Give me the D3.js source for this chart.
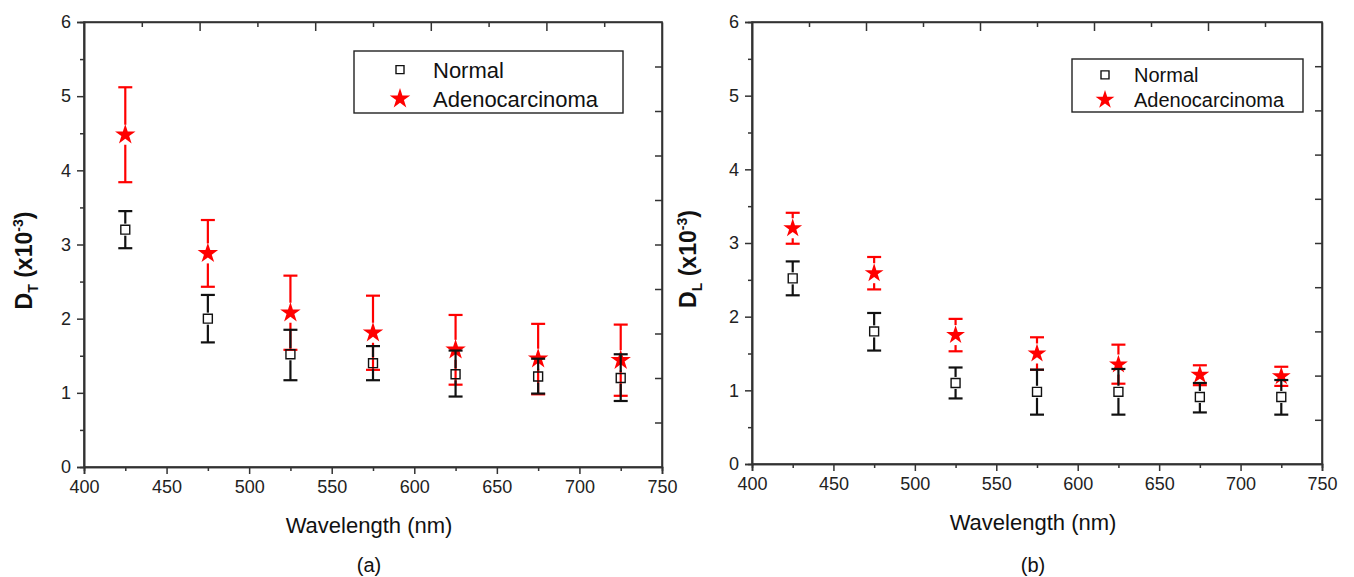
<!DOCTYPE html>
<html>
<head>
<meta charset="utf-8">
<script src="https://cdn.jsdelivr.net/npm/d3@7"></script>
<style>
  body { margin: 0; background: #fff; }
  svg { font-family: "Liberation Sans", Arial, sans-serif; }
</style>
</head>
<body>
<div id="chart"></div>
<script>
const width = 1354,
  height = 577;

// shared x categories (nm)
const wavelengths = [425, 475, 525, 575, 625, 675, 725];
const xTicks = [400, 450, 500, 550, 600, 650, 700, 750];
const yTicks = [0, 1, 2, 3, 4, 5, 6];
const seriesNames = ["Normal", "Adenocarcinoma"];

// panel (a): D_T
const dtNormal = [3.2, 2.0, 1.52, 1.40, 1.25, 1.22, 1.20];
const dtNormalLo = [2.95, 1.68, 1.17, 1.17, 0.95, 0.99, 0.89];
const dtNormalHi = [3.45, 2.32, 1.85, 1.63, 1.57, 1.46, 1.52];
const dtAdeno = [4.48, 2.88, 2.08, 1.81, 1.58, 1.46, 1.44];
const dtAdenoLo = [3.84, 2.43, 1.58, 1.31, 1.11, 0.98, 0.96];
const dtAdenoHi = [5.12, 3.33, 2.58, 2.31, 2.05, 1.93, 1.92];

// panel (b): D_L
const dlNormal = [2.52, 1.80, 1.10, 0.98, 0.98, 0.91, 0.91];
const dlNormalLo = [2.29, 1.54, 0.89, 0.67, 0.67, 0.70, 0.67];
const dlNormalHi = [2.75, 2.05, 1.31, 1.28, 1.29, 1.10, 1.14];
const dlAdeno = [3.20, 2.59, 1.75, 1.50, 1.35, 1.21, 1.19];
const dlAdenoLo = [2.99, 2.37, 1.53, 1.28, 1.09, 1.07, 1.06];
const dlAdenoHi = [3.41, 2.81, 1.97, 1.72, 1.62, 1.34, 1.32];

const svg = d3.select("#chart")
  .append("svg")
  .attr("width", width)
  .attr("height", height);

const axisColor = "#333";

function drawPanel(p) {
  const x = d3.scaleLinear().domain([400, 750]).range([p.left, p.right]);
  const y = d3.scaleLinear().domain([0, 6]).range([p.bottom, p.top]);
  const g = svg.append("g");

  // bottom axis: outward ticks, major every 50, minor every 25
  g.append("g")
    .attr("transform", `translate(0,${p.bottom})`)
    .call(d3.axisBottom(x).tickValues(xTicks).tickSize(7).tickPadding(6).tickFormat(d3.format("d")));
  g.append("g")
    .attr("transform", `translate(0,${p.bottom})`)
    .call(d3.axisBottom(x).tickValues(d3.range(425, 750, 50)).tickSize(4).tickFormat(""));

  // left axis: outward ticks, major 1, minor 0.5
  g.append("g")
    .attr("transform", `translate(${p.left},0)`)
    .call(d3.axisLeft(y).tickValues(yTicks).tickSize(7).tickPadding(6).tickFormat(d3.format("d")));
  g.append("g")
    .attr("transform", `translate(${p.left},0)`)
    .call(d3.axisLeft(y).tickValues(d3.range(0.5, 6, 1)).tickSize(4).tickFormat(""));

  // top axis: inward ticks, 10 divisions
  const topVals = d3.range(1, 10).map(i => 400 + i * 35);
  g.append("g")
    .attr("transform", `translate(0,${p.top})`)
    .call(d3.axisTop(x).tickValues(topVals).tickSizeInner(0).tickSizeOuter(0).tickFormat(""))
    .selectAll(".tick line")
    .attr("y2", (d, i) => i % 2 ? 9 : 5);

  // right axis: inward ticks every 0.6
  const rightVals = d3.range(1, 10).map(i => i * 0.6);
  g.append("g")
    .attr("transform", `translate(${p.right},0)`)
    .call(d3.axisRight(y).tickValues(rightVals).tickSizeInner(0).tickSizeOuter(0).tickFormat(""))
    .selectAll(".tick line")
    .attr("x2", -7);

  g.selectAll(".domain").attr("stroke", axisColor).attr("stroke-width", 1.6);
  g.selectAll(".tick line").attr("stroke", axisColor).attr("stroke-width", 1.5);
  g.selectAll(".tick text")
    .attr("fill", "#222")
    .attr("font-size", 18)
    .attr("font-family", "Liberation Sans, Arial, sans-serif");

  // close the frame
  g.append("rect")
    .attr("x", p.left).attr("y", p.top)
    .attr("width", p.right - p.left).attr("height", p.bottom - p.top)
    .attr("fill", "none").attr("stroke", axisColor).attr("stroke-width", 1.6);

  // axis labels
  g.append("text")
    .attr("x", (p.left + p.right) / 2 - 4)
    .attr("y", p.bottom + 66)
    .attr("text-anchor", "middle")
    .attr("font-size", 22)
    .attr("fill", "#111")
    .text("Wavelength (nm)");

  g.append("text")
    .attr("x", (p.left + p.right) / 2 - 4)
    .attr("y", 572)
    .attr("text-anchor", "middle")
    .attr("font-size", 20)
    .attr("fill", "#111")
    .text(p.tag);

  const yl = g.append("text")
    .attr("transform", `translate(${p.left - p.ylOff},${(p.top + p.bottom) / 2 + 16}) rotate(-90)`)
    .attr("text-anchor", "middle")
    .attr("font-size", 23)
    .attr("font-weight", "bold")
    .attr("fill", "#111");
  yl.append("tspan").text("D");
  yl.append("tspan").attr("font-size", 14).attr("dy", 6).text(p.sub);
  yl.append("tspan").attr("dy", -6).text(" (x10");
  yl.append("tspan").attr("font-size", 14).attr("dy", -9).text("-3");
  yl.append("tspan").attr("dy", 9).text(")");

  const star = d3.symbol().type(d3.symbolStar).size(p.starSize);
  const square = d3.symbol().type(d3.symbolSquare).size(80);

  function errorBars(vals, lo, hi, color, gap) {
    const eb = g.append("g").attr("stroke", color).attr("stroke-width", 2.2).attr("fill", "none");
    wavelengths.forEach((w, i) => {
      const cx = x(w), cy = y(vals[i]);
      const yh = y(hi[i]), yb = y(lo[i]);
      if (cy - gap > yh) eb.append("line").attr("x1", cx).attr("x2", cx).attr("y1", yh).attr("y2", cy - gap);
      if (cy + gap < yb) eb.append("line").attr("x1", cx).attr("x2", cx).attr("y1", cy + gap).attr("y2", yb);
      [yh, yb].forEach(v => {
        eb.append("line").attr("x1", cx - 7).attr("x2", cx + 7).attr("y1", v).attr("y2", v);
      });
    });
  }

  // adenocarcinoma (red stars) under, normal (black squares) on top
  errorBars(p.adeno, p.adenoLo, p.adenoHi, "#ff0000", 10);
  g.append("g").selectAll("path")
    .data(p.adeno)
    .join("path")
    .attr("transform", (d, i) => `translate(${x(wavelengths[i])},${y(d)})`)
    .attr("d", star)
    .attr("fill", "#ff0000");

  errorBars(p.normal, p.normalLo, p.normalHi, "#111", 6);
  g.append("g").selectAll("path")
    .data(p.normal)
    .join("path")
    .attr("transform", (d, i) => `translate(${x(wavelengths[i])},${y(d)})`)
    .attr("d", square)
    .attr("fill", "none")
    .attr("stroke", "#111")
    .attr("stroke-width", 1.4);

  // legend
  const lg = p.legend;
  g.append("rect")
    .attr("x", lg.x).attr("y", lg.y).attr("width", lg.w).attr("height", lg.h)
    .attr("fill", "#fff").attr("stroke", "#222").attr("stroke-width", 1.4);
  g.append("path")
    .attr("transform", `translate(${lg.sx},${lg.y + lg.h * 0.3})`)
    .attr("d", d3.symbol().type(d3.symbolSquare).size(64))
    .attr("fill", "none").attr("stroke", "#111").attr("stroke-width", 1.4);
  g.append("path")
    .attr("transform", `translate(${lg.sx},${lg.y + lg.h * 0.77})`)
    .attr("d", d3.symbol().type(d3.symbolStar).size(p.starSize))
    .attr("fill", "#ff0000");
  seriesNames.forEach((name, i) => {
    g.append("text")
      .attr("x", lg.tx)
      .attr("y", lg.y + lg.h * (i ? 0.77 : 0.3) + lg.fs * 0.36)
      .attr("font-size", lg.fs)
      .attr("fill", "#111")
      .text(name);
  });
}

drawPanel({
  left: 84, right: 662, top: 22, bottom: 467,
  tag: "(a)", sub: "T", starSize: 130, ylOff: 52,
  normal: dtNormal, normalLo: dtNormalLo, normalHi: dtNormalHi,
  adeno: dtAdeno, adenoLo: dtAdenoLo, adenoHi: dtAdenoHi,
  legend: { x: 354, y: 51, w: 269, h: 62, sx: 400, tx: 433, fs: 22 }
});

drawPanel({
  left: 752, right: 1322, top: 22, bottom: 464,
  tag: "(b)", sub: "L", starSize: 110, ylOff: 56,
  normal: dlNormal, normalLo: dlNormalLo, normalHi: dlNormalHi,
  adeno: dlAdeno, adenoLo: dlAdenoLo, adenoHi: dlAdenoHi,
  legend: { x: 1072, y: 59, w: 231, h: 53, sx: 1105, tx: 1134, fs: 20 }
});
</script>
</body>
</html>
